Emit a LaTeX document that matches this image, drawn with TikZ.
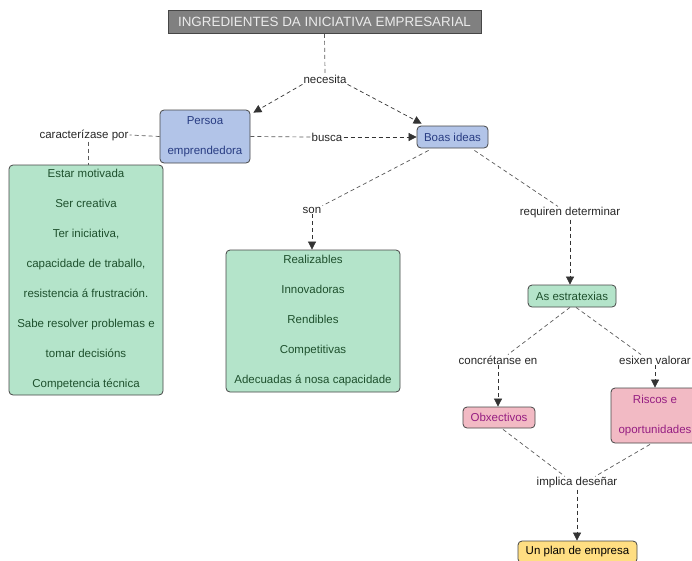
\documentclass[tikz,border=0pt]{standalone}
\usepackage{fontspec}
\setmainfont{Liberation Sans}
\usetikzlibrary{arrows.meta,calc}
\definecolor{blueF}{RGB}{178,196,232}
\definecolor{blueT}{RGB}{40,60,130}
\definecolor{greenF}{RGB}{180,228,202}
\definecolor{greenT}{RGB}{30,80,45}
\definecolor{pinkF}{RGB}{242,186,196}
\definecolor{pinkT}{RGB}{150,30,130}
\definecolor{yellowF}{RGB}{255,222,130}
\definecolor{titleF}{RGB}{128,128,128}
\definecolor{titleT}{RGB}{235,235,235}
\definecolor{edge}{RGB}{70,70,70}
\definecolor{lineC}{RGB}{90,90,90}
\tikzset{
  box/.style={draw=edge, line width=0.8pt, rounded corners=4pt, inner sep=0pt, align=center,
    font=\fontsize{11.5}{30}\selectfont},
  bluebox/.style={box, fill=blueF, text=blueT},
  greenbox/.style={box, fill=greenF, text=greenT},
  pinkbox/.style={box, fill=pinkF, text=pinkT},
  yellowbox/.style={box, fill=yellowF, text=black},
  lbl/.style={inner sep=1pt, font=\fontsize{11.5}{14}\selectfont, text=black!85},
  link/.style={draw=lineC, line width=0.7pt, dash pattern=on 4pt off 3pt},
  arr/.style={draw=black!80, line width=0.7pt, dash pattern=on 4pt off 3pt,
    -{Triangle[length=8pt,width=8pt]}},
}
\begin{document}
\begin{tikzpicture}[x=1pt,y=-1pt]
\useasboundingbox (0,0) rectangle (692,560);
% title
\node[draw=edge, line width=0.8pt, fill=titleF, text=titleT, minimum width=313pt, minimum height=23pt,
  inner sep=0pt, font=\fontsize{13.4}{16}\selectfont] (title) at (324.5,22) {INGREDIENTES DA INICIATIVA EMPRESARIAL};
% concept boxes
\node[bluebox, minimum width=90pt, minimum height=53pt] (persoa) at (205,136.5) {Persoa\\emprendedora};
\node[bluebox, minimum width=71pt, minimum height=22pt] (boas) at (452.5,137) {Boas ideas};
\node[greenbox, minimum width=154pt, minimum height=230pt] (trazos) at (86,280)
  {Estar motivada\\Ser creativa\\Ter iniciativa,\\capacidade de traballo,\\resistencia á frustración.\\Sabe resolver problemas e\\tomar decisións\\Competencia técnica};
\node[greenbox, minimum width=174pt, minimum height=142pt] (ideas) at (313,321)
  {Realizables\\Innovadoras\\Rendibles\\Competitivas\\Adecuadas á nosa capacidade};
\node[greenbox, minimum width=88pt, minimum height=22pt] (estr) at (572,296) {As estratexias};
\node[pinkbox, minimum width=72pt, minimum height=21pt] (obx) at (499,417.5) {Obxectivos};
\node[pinkbox, minimum width=88pt, minimum height=55pt] (riscos) at (655,415.5) {Riscos e\\oportunidades};
\node[yellowbox, minimum width=119pt, minimum height=22pt] (plan) at (577.5,552) {Un plan de empresa};
% linking phrases
\node[lbl] (necesita) at (325,79) {necesita};
\node[lbl] (busca) at (327,137) {busca};
\node[lbl] (carac) at (84,135) {caracterízase por};
\node[lbl] (son) at (312,210) {son};
\node[lbl] (requiren) at (570,213) {requiren determinar};
\node[lbl] (concret) at (498,360) {concrétanse en};
\node[lbl] (esixen) at (655,360) {esixen valorar};
\node[lbl] (implica) at (577,483) {implica deseñar};
% connectors
\draw[link] (title.south) -- (necesita.north);
\draw[arr] (necesita.south west) -- ([shift={(3,3)}]persoa.north east);
\draw[arr] (necesita.south east) -- ([shift={(5,-2)}]boas.north west);
\draw[link] (persoa.east) -- (busca.west);
\draw[arr] (busca.east) -- (boas.west);
\draw[link] (persoa.west) -- (carac.east);
\draw[link] ([xshift=4pt]carac.south) -- ([xshift=4pt]carac.south |- trazos.north);
\draw[link] ([shift={(12,2)}]boas.south west) -- (son.north east);
\draw[arr] (son.south) -- (son.south |- ideas.north);
\draw[link] ([shift={(-14,2)}]boas.south east) -- ([xshift=-12pt]requiren.north);
\draw[arr] (requiren.south) -- (requiren.south |- estr.north);
\draw[link] ([xshift=-2pt]estr.south) -- ([xshift=10pt]concret.north);
\draw[link] ([xshift=4pt]estr.south) -- ([xshift=-14pt]esixen.north);
\draw[arr] (concret.south) -- (concret.south |- obx.north);
\draw[arr] (esixen.south) -- (esixen.south |- riscos.north);
\draw[link] ([shift={(4,1)}]obx.south) -- ([xshift=-12pt]implica.north);
\draw[link] ([shift={(-5,1)}]riscos.south) -- ([xshift=18pt]implica.north);
\draw[arr] (implica.south) -- (implica.south |- plan.north);
\end{tikzpicture}
\end{document}
